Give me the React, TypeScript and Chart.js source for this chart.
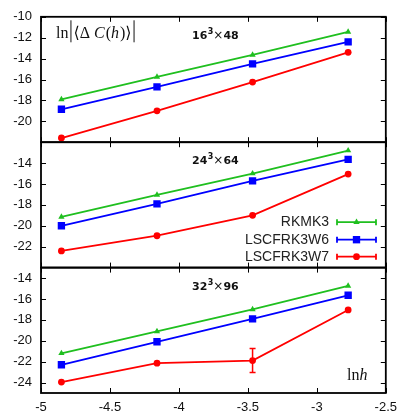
import { useEffect, useRef } from 'react';
import { Chart, registerables } from 'chart.js';
Chart.register(...registerables);

// ln h values (h = 1/128, 1/64, 1/32, 1/16)
const lnH = [-4.852, -4.159, -3.466, -2.773];
const xTicks = [-5, -4.5, -4, -3.5, -3, -2.5];
const seriesNames = ['RKMK3', 'LSCFRK3W6', 'LSCFRK3W7'];
const seriesColors = ['#1fbf1f', '#0000ff', '#ff0000'];
const seriesMarkers = ['triangle', 'rect', 'circle'];
const seriesRadius = [3.6, 5.2, 3.4];

// panel titles: base, superscript, tail
const panelTitles = [
  ['16', '3', '48'],
  ['24', '3', '64'],
  ['32', '3', '96'],
];

// 16^3 x 48
const rkmk3_16 = [-17.9, -15.75, -13.65, -11.45];
const w6_16 = [-18.85, -16.7, -14.5, -12.4];
const w7_16 = [-21.6, -19.0, -16.25, -13.4];
// 24^3 x 64
const rkmk3_24 = [-19.15, -17.05, -15.0, -12.8];
const w6_24 = [-20.0, -17.9, -15.7, -13.65];
const w7_24 = [-22.4, -20.95, -19.0, -15.05];
// 32^3 x 96
const rkmk3_32 = [-21.2, -19.1, -17.0, -14.75];
const w6_32 = [-22.3, -20.1, -17.9, -15.65];
const w7_32 = [-23.95, -22.15, -21.9, -17.05];
const w7_32_err = [0, 0, 1.15, 0];

const yRanges = [[-22, -10], [-24, -12], [-25, -13]];
const yTicks = [
  [-10, -12, -14, -16, -18, -20],
  [-14, -16, -18, -20, -22],
  [-14, -16, -18, -20, -22, -24],
];

const panels = [
  [rkmk3_16, w6_16, w7_16],
  [rkmk3_24, w6_24, w7_24],
  [rkmk3_32, w6_32, w7_32],
];
const axisIds = ['y1', 'y2', 'y3'];

const tickFont = { family: '"Liberation Sans", Arial, sans-serif', size: 13 };

export default function App() {
  const ref = useRef<HTMLCanvasElement | null>(null);

  useEffect(() => {
    document.body.style.margin = '0';
    const canvas = ref.current!;
    const datasets: any[] = [];
    panels.forEach((series, p) => {
      series.forEach((vals, s) => {
        datasets.push({
          label: seriesNames[s],
          data: vals.map((v, i) => ({ x: lnH[i], y: v })),
          yAxisID: axisIds[p],
          borderColor: seriesColors[s],
          backgroundColor: seriesColors[s],
          borderWidth: 1.8,
          pointStyle: seriesMarkers[s],
          pointRadius: seriesRadius[s],
          pointBorderWidth: 0,
          pointHoverRadius: seriesRadius[s],
          tension: 0,
          fill: false,
          errs: p === 2 && s === 2 ? w7_32_err : null,
        });
      });
    });

    const yScale = (p: number) => ({
      type: 'linear',
      position: 'left',
      stack: 'panels',
      stackWeight: 1,
      weight: 3 - p,
      min: yRanges[p][0],
      max: yRanges[p][1],
      afterBuildTicks: (s: any) => {
        s.ticks = yTicks[p].map((v) => ({ value: v }));
      },
      afterFit: (s: any) => {
        s.width = 41;
      },
      grid: { display: false, drawTicks: false },
      border: { display: false },
      ticks: {
        padding: 9,
        font: tickFont,
        color: '#111',
        callback: (v: any) => String(v),
        autoSkip: false,
      },
    });

    const overlay = {
      id: 'overlay',
      afterDatasetsDraw(chart: any) {
        const ctx = chart.ctx as CanvasRenderingContext2D;
        const ca = chart.chartArea;
        const xs = chart.scales.x;
        ctx.save();

        // error bars
        chart.data.datasets.forEach((ds: any, di: number) => {
          if (!ds.errs) return;
          const ys = chart.scales[ds.yAxisID];
          ds.errs.forEach((e: number, i: number) => {
            if (!e) return;
            const px = xs.getPixelForValue(ds.data[i].x);
            const y0 = ys.getPixelForValue(ds.data[i].y - e);
            const y1 = ys.getPixelForValue(ds.data[i].y + e);
            ctx.strokeStyle = ds.borderColor;
            ctx.lineWidth = 1.5;
            ctx.beginPath();
            ctx.moveTo(px, y0);
            ctx.lineTo(px, y1);
            ctx.moveTo(px - 3, y0);
            ctx.lineTo(px + 3, y0);
            ctx.moveTo(px - 3, y1);
            ctx.lineTo(px + 3, y1);
            ctx.stroke();
          });
        });

        // frames and inward ticks
        ctx.strokeStyle = '#000';
        axisIds.forEach((id, p) => {
          const ys = chart.scales[id];
          const top = ys.top;
          const bottom = ys.bottom;
          ctx.lineWidth = 1;
          ctx.beginPath();
          yTicks[p].forEach((v) => {
            const py = Math.round(ys.getPixelForValue(v)) + 0.5;
            ctx.moveTo(ca.left, py);
            ctx.lineTo(ca.left + 5, py);
            ctx.moveTo(ca.right, py);
            ctx.lineTo(ca.right - 5, py);
          });
          xTicks.forEach((v) => {
            const px = Math.round(xs.getPixelForValue(v)) + 0.5;
            ctx.moveTo(px, top);
            ctx.lineTo(px, top + 5);
            ctx.moveTo(px, bottom);
            ctx.lineTo(px, bottom - 5);
          });
          ctx.stroke();
          ctx.lineWidth = 1.8;
          ctx.strokeRect(ca.left, top, ca.right - ca.left, bottom - top);

          // panel title
          const t = panelTitles[p];
          let tx = 192;
          const ty = top + 22;
          ctx.fillStyle = '#111';
          ctx.textBaseline = 'alphabetic';
          ctx.textAlign = 'left';
          ctx.font = 'bold 11px "DejaVu Sans", sans-serif';
          ctx.fillText(t[0], tx, ty);
          tx += ctx.measureText(t[0]).width;
          ctx.font = 'bold 8px "DejaVu Sans", sans-serif';
          ctx.fillText(t[1], tx + 0.5, ty - 5);
          tx += ctx.measureText(t[1]).width + 0.5;
          ctx.font = '12px "DejaVu Sans", sans-serif';
          ctx.fillText('\u00D7', tx, ty);
          tx += ctx.measureText('\u00D7').width;
          ctx.font = 'bold 11px "DejaVu Sans", sans-serif';
          ctx.fillText(t[2], tx, ty);
        });

        // y label: ln|<Δ C(h)>|
        const ys1 = chart.scales.y1;
        const by = ys1.top + 21.5;
        const serif = '"Liberation Serif", "DejaVu Serif", serif';
        const pieces: [string, boolean][] = [
          ['ln', false],
          ['|', false],
          ['\u27E8', false],
          ['\u0394 ', false],
          ['C', true],
          ['(', false],
          ['h', true],
          [')', false],
          ['\u27E9', false],
          ['|', false],
        ];
        let lx = 56;
        ctx.fillStyle = '#111';
        ctx.strokeStyle = '#111';
        pieces.forEach(([txt, it]) => {
          if (txt === '|') {
            ctx.lineWidth = 1;
            ctx.beginPath();
            ctx.moveTo(lx + 2.5, by - 18);
            ctx.lineTo(lx + 2.5, by + 4);
            ctx.stroke();
            lx += 5;
            return;
          }
          ctx.font = (it ? 'italic ' : '') + '16px ' + serif;
          ctx.fillText(txt, lx, by);
          lx += ctx.measureText(txt).width + (it ? 1 : 0);
        });

        // x label: ln h
        const ys3 = chart.scales.y3;
        const hy = ys3.bottom - 13;
        ctx.font = '16px ' + serif;
        ctx.fillText('ln', 347, hy);
        const lw = ctx.measureText('ln').width;
        ctx.font = 'italic 16px ' + serif;
        ctx.fillText('h', 347 + lw, hy);

        // legend (in middle panel)
        const ys2 = chart.scales.y2;
        const rowY = [ys2.top + 80, ys2.top + 97.5, ys2.top + 114.5];
        seriesNames.forEach((name, s) => {
          const y = rowY[s];
          ctx.font = '14px "Liberation Sans", Arial, sans-serif';
          ctx.fillStyle = '#222';
          ctx.textAlign = 'right';
          ctx.textBaseline = 'middle';
          ctx.fillText(name, 329, y);
          ctx.strokeStyle = seriesColors[s];
          ctx.fillStyle = seriesColors[s];
          ctx.lineWidth = 1.8;
          ctx.beginPath();
          ctx.moveTo(337, y);
          ctx.lineTo(376, y);
          ctx.moveTo(337, y - 3);
          ctx.lineTo(337, y + 3);
          ctx.moveTo(376, y - 3);
          ctx.lineTo(376, y + 3);
          ctx.stroke();
          const cx = 356.5;
          const r = seriesRadius[s];
          ctx.beginPath();
          if (seriesMarkers[s] === 'circle') {
            ctx.arc(cx, y, r, 0, Math.PI * 2);
          } else if (seriesMarkers[s] === 'rect') {
            const h = r * Math.SQRT1_2;
            ctx.rect(cx - h, y - h, 2 * h, 2 * h);
          } else {
            ctx.moveTo(cx, y - r);
            ctx.lineTo(cx + r * 0.866, y + r * 0.5);
            ctx.lineTo(cx - r * 0.866, y + r * 0.5);
            ctx.closePath();
          }
          ctx.fill();
        });

        ctx.restore();
      },
    };

    const chart = new Chart(canvas, {
      type: 'line',
      data: { datasets },
      options: {
        responsive: false,
        animation: false,
        events: [],
        layout: { padding: { left: 0, top: 13, right: 12, bottom: 0 } },
        plugins: { legend: { display: false }, tooltip: { enabled: false } },
        scales: {
          x: {
            type: 'linear',
            min: -5,
            max: -2.5,
            afterBuildTicks: (s: any) => {
              s.ticks = xTicks.map((v) => ({ value: v }));
            },
            afterFit: (s: any) => {
              s.height = 22;
            },
            grid: { display: false, drawTicks: false },
            border: { display: false },
            ticks: {
              padding: 7,
              font: tickFont,
              color: '#111',
              maxRotation: 0,
              autoSkip: false,
              callback: (v: any) => String(v),
            },
          },
          y1: yScale(0),
          y2: yScale(1),
          y3: yScale(2),
        } as any,
      },
      plugins: [overlay],
    } as any);

    return () => chart.destroy();
  }, []);

  return (
    <div style={{ width: 404, height: 415, background: '#fff' }}>
      <canvas ref={ref} width={404} height={415} style={{ display: 'block' }} />
    </div>
  );
}
